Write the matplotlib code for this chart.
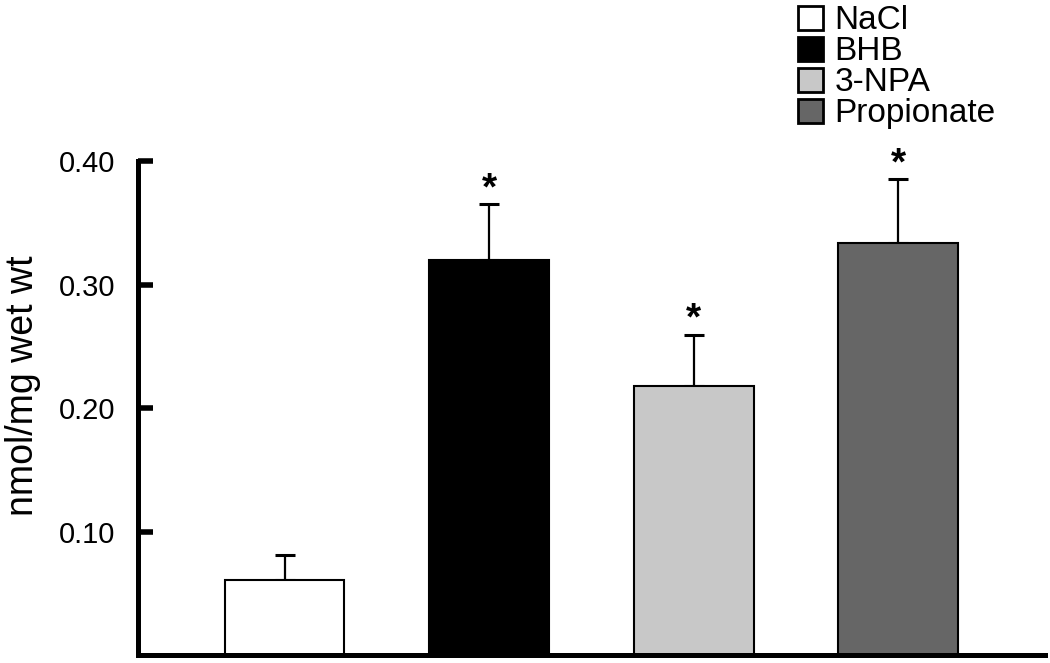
import matplotlib.pyplot as plt
from matplotlib.patches import Patch
import numpy as np

plt.rcParams['font.family'] = ['Liberation Sans', 'DejaVu Sans']

groups = ['NaCl', 'BHB', '3-NPA', 'Propionate']
means = [0.0606, 0.320, 0.2175, 0.334]
errs = [0.0202, 0.045, 0.042, 0.0516]
signif = [False, True, True, True]
bar_colors = ['white', 'black', '#c8c8c8', '#666666']
yticks = [0.10, 0.20, 0.30, 0.40]

fig = plt.figure(figsize=(10.5, 6.63), dpi=100)
ax = fig.add_axes([0.131, 0.012, 0.864, 0.745])

x = np.arange(len(groups))
ax.bar(x, means, width=0.585, color=bar_colors, edgecolor='black', linewidth=1.5, zorder=2)
ax.errorbar(x, means, yerr=[np.zeros(len(errs)), errs], fmt='none', ecolor='black',
            elinewidth=1.6, capsize=7, capthick=2.2, zorder=1)

for xi, m, e, s in zip(x, means, errs, signif):
    if s:
        ax.text(xi, m + e + 0.012, '*', ha='center', va='center', fontsize=28, fontweight='bold')

ax.set_xlim(-0.719, 3.716)
ax.set_ylim(0, 0.40)
ax.set_yticks(yticks)
ax.set_yticklabels(['%.2f' % t for t in yticks], fontsize=21)
ax.set_xticks([])
ax.tick_params(axis='y', direction='in', length=11, width=4, pad=16)
ax.spines['top'].set_visible(False)
ax.spines['right'].set_visible(False)
ax.spines['left'].set_linewidth(3.6)
ax.spines['bottom'].set_linewidth(3.6)
ax.set_ylabel('nmol/mg wet wt', fontsize=27)
ax.yaxis.set_label_coords(-0.106, 0.545)

handles = [Patch(facecolor=c, edgecolor='black', linewidth=2) for c in bar_colors]
fig.legend(handles, groups, loc='upper left', bbox_to_anchor=(0.738, 1.027), frameon=False,
           fontsize=24, handlelength=0.75, handleheight=0.75, labelspacing=0.0,
           handletextpad=0.33, borderpad=0.2)

fig.savefig('out.png', dpi=100)
